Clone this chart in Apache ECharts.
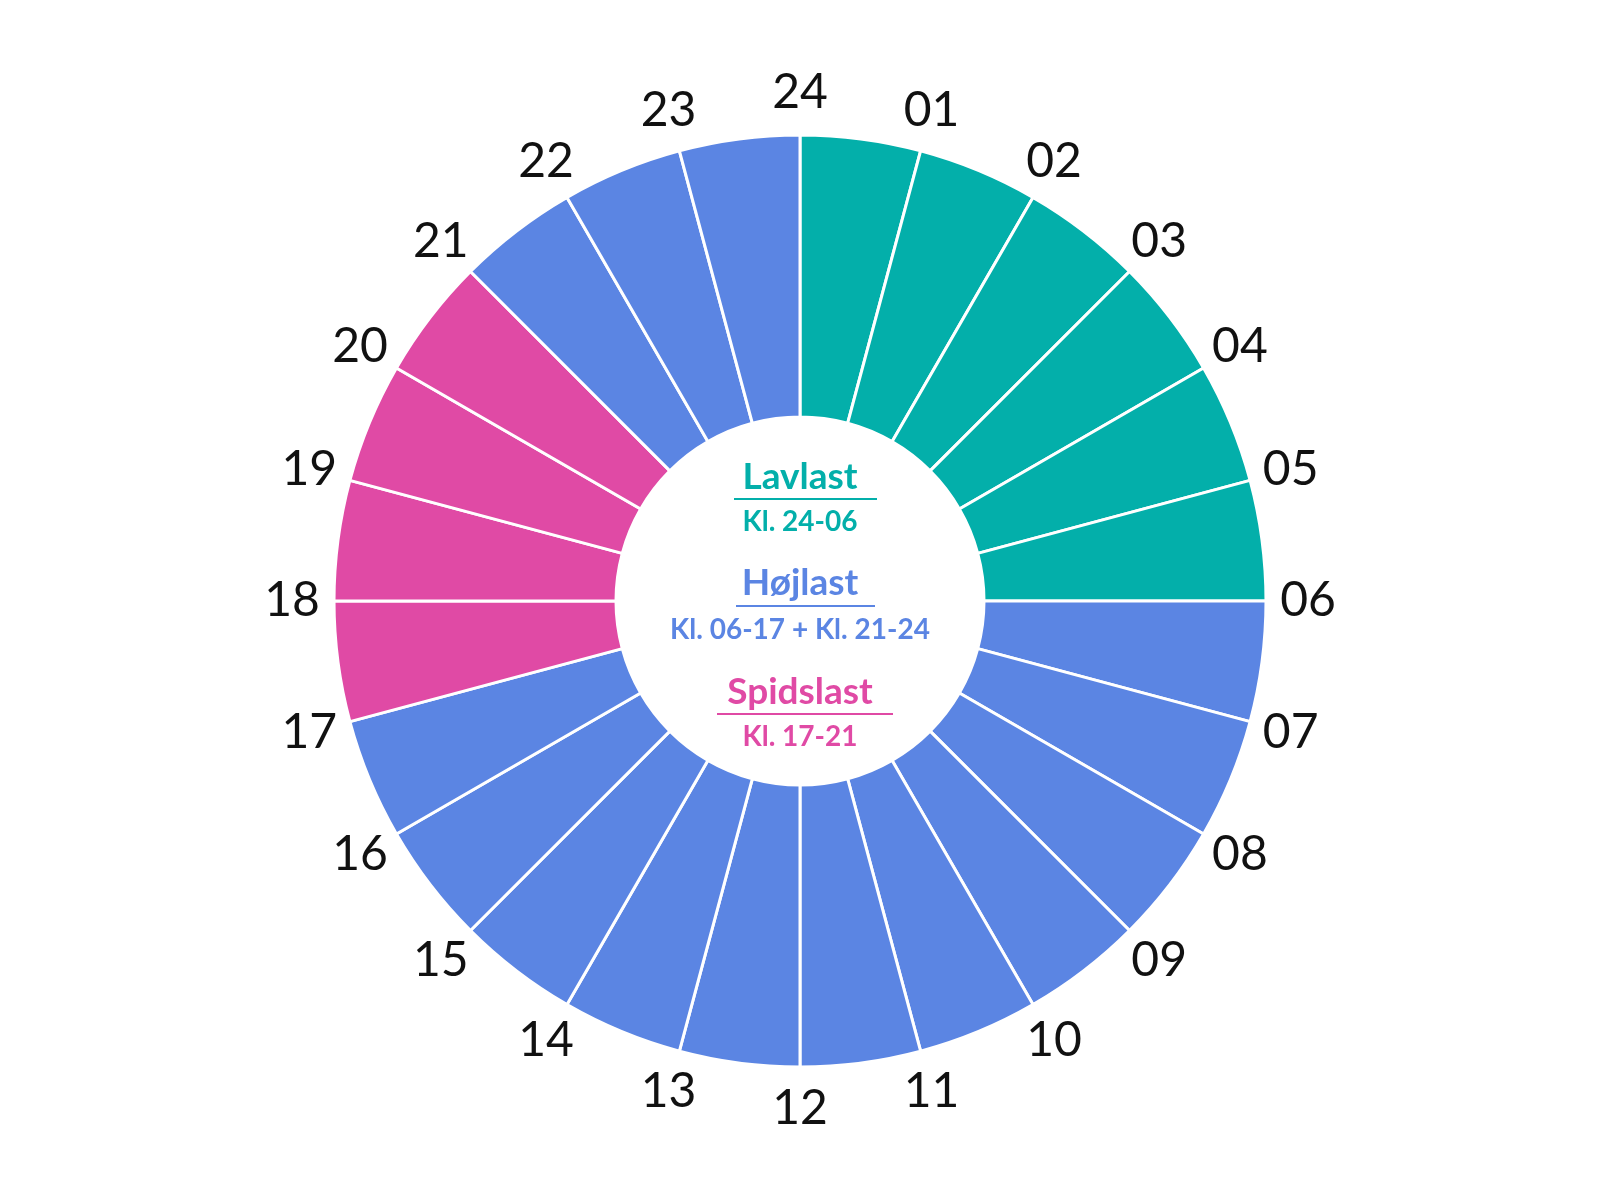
<!DOCTYPE html>
<html>
<head>
<meta charset="utf-8">
<script src="https://cdn.jsdelivr.net/npm/echarts@6/dist/echarts.min.js"></script>
<style>
  html, body { margin: 0; padding: 0; background: #fff; }
  #chart { width: 1600px; height: 1200px; }
</style>
</head>
<body>
<div id="chart"></div>
<script>
  // hour slices, clockwise from the top (slice 0 = 24->01)
  var sliceBands = [
    'Lavlast', 'Lavlast', 'Lavlast', 'Lavlast', 'Lavlast', 'Lavlast',
    'Højlast', 'Højlast', 'Højlast', 'Højlast', 'Højlast', 'Højlast',
    'Højlast', 'Højlast', 'Højlast', 'Højlast', 'Højlast',
    'Spidslast', 'Spidslast', 'Spidslast', 'Spidslast',
    'Højlast', 'Højlast', 'Højlast'
  ];
  var sliceValues = [1, 1, 1, 1, 1, 1, 1, 1, 1, 1, 1, 1, 1, 1, 1, 1, 1, 1, 1, 1, 1, 1, 1, 1];
  // labels sit on the slice boundaries
  var hourLabels = ['24', '01', '02', '03', '04', '05', '06', '07', '08', '09', '10', '11',
                    '12', '13', '14', '15', '16', '17', '18', '19', '20', '21', '22', '23'];
  var bandNames = ['Lavlast', 'Højlast', 'Spidslast'];
  var bandHours = ['Kl. 24-06', 'Kl. 06-17 + Kl. 21-24', 'Kl. 17-21'];
  var bandColors = { 'Lavlast': '#03AFAA', 'Højlast': '#5B85E3', 'Spidslast': '#E04AA5' };

  var cx = 800, cy = 601;
  var font = 'Lato, "Noto Sans", sans-serif';

  var myChart = echarts.init(document.getElementById('chart'));

  var slices = sliceValues.map(function (v, i) {
    return { value: v, name: 'h' + i, itemStyle: { color: bandColors[sliceBands[i]] } };
  });
  var labelRing = sliceValues.map(function (v, i) {
    return { value: v, name: hourLabels[i] };
  });

  // centre legend
  var graphics = [];
  var rowY = [[477, 499, 522], [583, 606, 630], [692, 714, 737]];
  var lineX = [[734, 877], [736, 875], [717, 893]];
  bandNames.forEach(function (b, i) {
    var col = bandColors[b];
    graphics.push({
      type: 'text', x: cx, y: rowY[i][0], silent: true,
      style: { text: b, fill: col, font: 'bold 37px ' + font, textAlign: 'center', textVerticalAlign: 'middle' }
    });
    graphics.push({
      type: 'line', silent: true,
      shape: { x1: lineX[i][0], y1: rowY[i][1], x2: lineX[i][1], y2: rowY[i][1] },
      style: { stroke: col, lineWidth: 2 }
    });
    graphics.push({
      type: 'text', x: cx, y: rowY[i][2], silent: true,
      style: { text: bandHours[i], fill: col, font: 'bold 28px ' + font, textAlign: 'center', textVerticalAlign: 'middle' }
    });
  });

  var option = {
    animation: false,
    backgroundColor: '#ffffff',
    series: [
      {
        type: 'pie',
        center: [cx, cy],
        radius: [184, 466],
        startAngle: 90,
        clockwise: true,
        silent: true,
        label: { show: false },
        labelLine: { show: false },
        itemStyle: { borderColor: '#ffffff', borderWidth: 3 },
        data: slices
      },
      {
        type: 'pie',
        center: [cx, cy],
        radius: [478, 532],
        startAngle: 97.5,
        clockwise: true,
        silent: true,
        itemStyle: { color: 'rgba(0,0,0,0)' },
        label: {
          show: true,
          position: 'inside',
          rotate: 0,
          color: '#111111',
          fontFamily: font,
          fontWeight: 'normal',
          fontSize: 48,
          formatter: '{b}'
        },
        labelLine: { show: false },
        data: labelRing
      }
    ],
    graphic: graphics
  };
  myChart.setOption(option);
</script>
</body>
</html>
